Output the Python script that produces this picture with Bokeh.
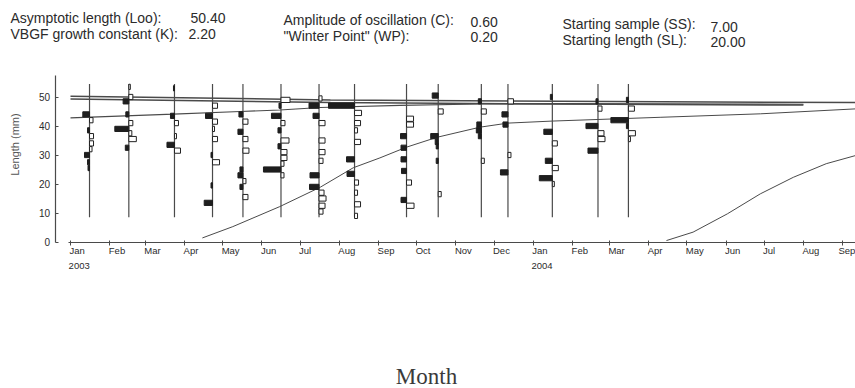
import math
import pandas as pd
from bokeh.plotting import figure
from bokeh.models import Range1d, LinearAxis, FixedTicker, ColumnDataSource
from bokeh.core.properties import value
from bokeh.embed import file_html
from bokeh.resources import INLINE

# ---------------------------------------------------------------- data
ORIGIN = pd.Timestamp("2003-01-01")

# Restructured length-frequency samples (ELEFAN style):
# positive scores = black peaks (drawn left), negative = white troughs (drawn right)
SAMPLE_DATES = [
    "2003-01-16", "2003-02-16", "2003-03-24", "2003-04-23", "2003-05-17",
    "2003-06-16", "2003-07-16", "2003-08-13", "2003-09-23", "2003-10-18",
    "2003-11-21", "2003-12-12", "2004-01-16", "2004-02-21", "2004-03-16",
]
SAMPLE_LENGTHS = [
    [44, 42, 38.5, 36.5, 34, 32, 30, 27.5, 25.5],
    [53.5, 50, 48.5, 44, 41, 39, 37.5, 35.5, 32.5],
    [53, 43.5, 41, 36.5, 33.5, 31.5],
    [47, 43.5, 41.5, 39, 35.5, 30, 27.5, 19.5, 13.5],
    [44, 41.5, 38, 35.5, 31.5, 25, 23, 21, 19, 15.5],
    [49, 47, 43.5, 41, 38.5, 35, 33, 31, 29, 27, 25, 23],
    [49.5, 47, 43.5, 41, 35, 31, 28, 23, 19, 17, 15, 12.5, 10.5],
    [47, 44.5, 41, 38.5, 34.5, 28.5, 23.5, 20.5, 17, 13, 9],
    [42.5, 40.5, 36.5, 32.5, 28.5, 24.5, 20.5, 14.5, 12.5],
    [50.5, 45, 36.5, 34.5, 33, 28, 16.5],
    [48.5, 45, 40.5, 38.5, 36.5, 28],
    [48.5, 44, 40.5, 30, 24],
    [50, 38, 34, 28, 25.5, 22, 20],
    [48.5, 46, 40, 37.5, 35.5, 31.5],
    [49, 46, 42, 40, 37.5, 35.5],
]
SAMPLE_SCORES = [
    [6.7, -3.5, 2, -4, -4, -2.5, 5, 2, 1.5],
    [-1.5, -4, 5.7, 3, -4, 14, -3, -7.5, 3.5],
    [1, 4, -4, -2, 7.5, -6],
    [-5, 7, -5, -2, -5, 1.5, -7, 1.5, 8.3],
    [4, -5, 5, -5, -6, 3, 5, -3, 3, -5],
    [-9, 2, 9.5, -4, 3, -8, 3, -6, -6, -3, 17.5, -3],
    [-3, 10, 6, -6, -6, -6, -4, 9, 9.5, -5, -7, -6, -4],
    [26, -7, -6, -3, -6, 8, 7.5, -4, -3, -6, -3],
    [-7, -7, 6, 5.5, 5.5, 5, -5, 5.5, -7.5],
    [6, -5, 7.5, 3, 2, 2, -3],
    [3, -5, 4.5, 5, 3, -3],
    [-5.5, 6, 5, -3, 7.5],
    [2, 8.5, -5, 7, -6, 13, -2],
    [2, -4, 12, -6, -7, 10],
    [2, -6, 17.5, 2, -7, -2],
]

# Growth curves (length in mm against date)
A1_DATES = ["2003-01-01", "2003-07-25", "2004-01-22", "2004-09-11"]
A1_LEN = [50.3, 49.0, 48.5, 48.1]
A2_DATES = ["2003-01-01", "2003-07-25", "2004-01-22", "2004-08-01"]
A2_LEN = [49.3, 48.1, 47.6, 47.2]
B_DATES = ["2003-01-01", "2003-03-23", "2003-05-15", "2003-06-15", "2003-07-17",
           "2003-09-18", "2003-11-20", "2004-01-22", "2004-08-01"]
B_LEN = [42.8, 44.1, 45.0, 45.5, 46.4, 47.1, 47.6, 47.7, 47.5]
C_DATES = ["2003-04-15", "2003-05-09", "2003-06-15", "2003-07-17", "2003-08-12",
           "2003-09-02", "2003-09-23", "2003-10-17", "2003-11-20", "2003-12-12",
           "2004-01-16", "2004-04-10", "2004-06-28", "2004-09-11"]
C_LEN = [1.4, 5.3, 12.2, 18.9, 25.6, 29.0, 32.7, 36.1, 39.6, 41.0, 41.7, 43.0, 44.2, 45.9]
D_DATES = ["2004-04-15", "2004-05-06", "2004-06-02", "2004-06-28", "2004-07-24",
           "2004-08-19", "2004-09-11"]
D_LEN = [0.5, 3.4, 9.7, 16.6, 22.3, 27.0, 29.8]

MONTH_STARTS = pd.date_range("2003-01-01", "2004-09-01", freq="MS")
MONTH_LABELS = ["Jan", "Feb", "Mar", "Apr", "May", "Jun", "Jul", "Aug", "Sep", "Oct",
                "Nov", "Dec", "Jan", "Feb", "Mar", "Apr", "May", "Jun", "Jul", "Aug", "Sep"]
YEAR_DATES = ["2003-01-01", "2004-01-01"]
YEAR_LABELS = ["2003", "2004"]
Y_TICKS = [0, 10, 20, 30, 40, 50]

PARAM_NAMES = ["Asymptotic length (Loo):", "VBGF growth constant (K):",
               "Amplitude of oscillation (C):", "\"Winter Point\" (WP):",
               "Starting sample (SS):", "Starting length (SL):"]
PARAM_VALUES = ["50.40", "2.20", "0.60", "0.20", "7.00", "20.00"]


def days(dates):
    return [(pd.Timestamp(d) - ORIGIN).days for d in dates]


# ---------------------------------------------------------------- layout
W, H = 855, 388
PX_PER_DAY = 1.268
PX_PER_MM = 2.9
X0_PX, Y0_PX = 70, 241.5          # canvas position of 1 Jan 2003 / 0 mm

INK = "#2b2b2b"
LINE = "#4a4a4a"
FONT = "Liberation Sans"
SANS = value(FONT)

p = figure(width=W, height=H, title=None, output_backend="svg", toolbar_location=None,
           x_range=Range1d(-X0_PX / PX_PER_DAY, (W - X0_PX) / PX_PER_DAY),
           y_range=Range1d((Y0_PX - H) / PX_PER_MM, Y0_PX / PX_PER_MM),
           x_axis_type=None, y_axis_type=None, min_border=0,
           outline_line_color=None, background_fill_color="white")
p.extra_x_ranges = {"page": Range1d(0, W)}
p.extra_y_ranges = {"page": Range1d(H, 0)}

# axes
yaxis = LinearAxis(ticker=FixedTicker(ticks=Y_TICKS), fixed_location=(54.5 - X0_PX) / PX_PER_DAY,
                   bounds=(0, 57.5), axis_line_color=LINE, axis_line_width=1.2,
                   major_tick_line_color=LINE, major_tick_out=0, major_tick_in=3,
                   minor_tick_line_color=None, major_label_standoff=5,
                   major_label_text_font=FONT, major_label_text_font_size="10px",
                   major_label_text_color=INK)
p.add_layout(yaxis, "left")

month_days = days(MONTH_STARTS)
xaxis = LinearAxis(ticker=FixedTicker(ticks=month_days), fixed_location=0,
                   bounds=(-1.5, 620), axis_line_color=LINE, axis_line_width=1.2,
                   major_tick_line_color=LINE, major_tick_out=3, major_tick_in=2,
                   minor_tick_line_color=None,
                   major_label_overrides={d: "" for d in month_days})
p.add_layout(xaxis, "below")

# month and year labels, left-aligned at each tick (last one kept inside the page)
x_last = (W - 17 - X0_PX) / PX_PER_DAY
label_x = [min(d - 0.8, x_last) for d in month_days]
p.text(x=label_x, y=[250] * len(month_days), text=MONTH_LABELS,
       y_range_name="page", text_font=SANS, text_font_size="9.5px", text_color=INK,
       text_align="left", text_baseline="middle")
p.text(x=[d - 1.5 for d in days(YEAR_DATES)], y=[265, 265], text=YEAR_LABELS,
       y_range_name="page", text_font=SANS, text_font_size="9.5px", text_color=INK,
       text_align="left", text_baseline="middle")

# growth curves
for dts, lens, lw in [(A1_DATES, A1_LEN, 1.5), (A2_DATES, A2_LEN, 1.5), (B_DATES, B_LEN, 1.1),
                      (C_DATES, C_LEN, 1.0), (D_DATES, D_LEN, 1.0)]:
    p.line(days(dts), lens, line_color=LINE, line_width=lw)

# sample baselines
sample_days = days(SAMPLE_DATES)
p.segment(x0=sample_days, y0=[8.5] * len(sample_days), x1=sample_days,
          y1=[54.5] * len(sample_days), line_color=LINE, line_width=1.2)

# histogram bars
SCORE_DAYS = 0.79   # horizontal extent (days) per score unit
HALF_CLASS = 0.9    # half bar height (mm)
pos = dict(left=[], right=[], top=[], bottom=[])
neg = dict(left=[], right=[], top=[], bottom=[])
for d, lens, scores in zip(sample_days, SAMPLE_LENGTHS, SAMPLE_SCORES):
    for length, s in zip(lens, scores):
        tgt = pos if s > 0 else neg
        ext = abs(s) * SCORE_DAYS
        tgt["left"].append(d - ext if s > 0 else d)
        tgt["right"].append(d if s > 0 else d + ext)
        tgt["top"].append(length + HALF_CLASS)
        tgt["bottom"].append(length - HALF_CLASS)

p.quad(source=ColumnDataSource(neg), left="left", right="right", top="top", bottom="bottom",
       fill_color="white", line_color="#222222", line_width=1)
p.quad(source=ColumnDataSource(pos), left="left", right="right", top="top", bottom="bottom",
       fill_color="#1e1e1e", line_color="#1e1e1e", line_width=1)

# parameter header
name_x = [10, 10, 283, 283, 562, 562]
name_y = [17, 33, 19, 35, 23, 39]
val_x = [190, 188, 470, 470, 710, 710]
val_y = [17, 33, 21, 36, 26, 41]
p.text(x=name_x, y=name_y, text=PARAM_NAMES, x_range_name="page", y_range_name="page",
       text_font=SANS, text_font_size="14px", text_color=INK,
       text_align="left", text_baseline="middle")
p.text(x=val_x, y=val_y, text=PARAM_VALUES, x_range_name="page", y_range_name="page",
       text_font=SANS, text_font_size="14px", text_color=INK,
       text_align="left", text_baseline="middle")

# axis titles
p.text(x=[14], y=[144], text=["Length (mm)"], angle=math.pi / 2,
       x_range_name="page", y_range_name="page", text_font=SANS, text_font_size="11px",
       text_color="#555555", text_align="center", text_baseline="middle")
p.text(x=[426], y=[376], text=["Month"], x_range_name="page", y_range_name="page",
       text_font=value("Liberation Serif"), text_font_size="23px", text_color="#3a3a3a",
       text_align="center", text_baseline="middle")

open("out.html", "w").write(file_html(p, INLINE))
